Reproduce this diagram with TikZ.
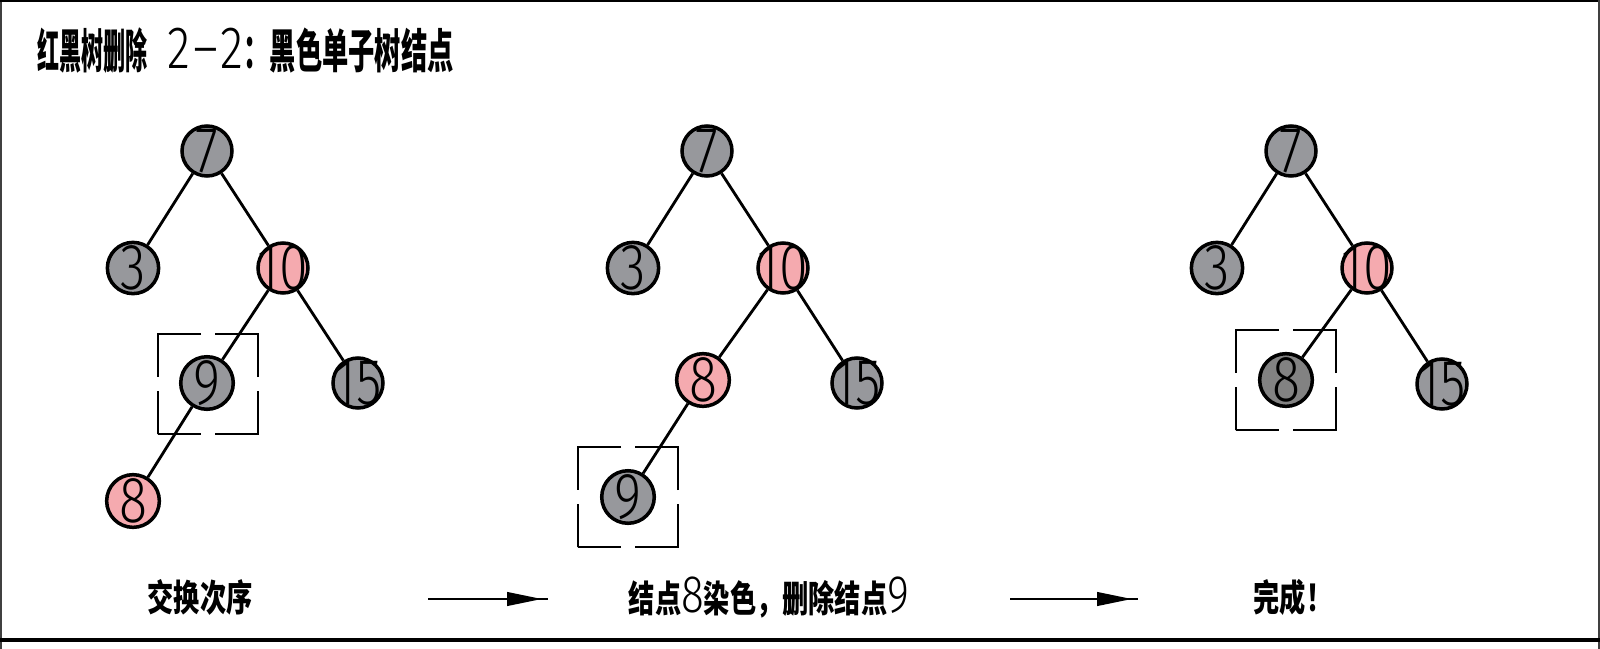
\documentclass[tikz,border=0pt]{standalone}
\usepackage{fontspec}
\usepackage{xcolor}
\usepackage{tikz}
\usetikzlibrary{arrows.meta, positioning}
\newfontfamily\cjk[FakeStretch=0.71]{Noto Sans CJK SC}
\newfontfamily\cjkn[FakeStretch=0.47]{Noto Sans CJK SC}
\newfontfamily\cjkm[FakeStretch=0.56]{Noto Sans CJK SC}
\newfontfamily\dg[UprightFont=* Light, FakeStretch=0.8]{Fira Sans}
\newfontfamily\dgw[UprightFont=* Light, FakeStretch=0.8]{Fira Sans}
\definecolor{rbgrey}{HTML}{97989C}
\definecolor{rbdark}{HTML}{828282}
\definecolor{rbpink}{HTML}{F5AAAF}
\tikzset{
  keynode/.style={circle, draw=black, line width=2pt, minimum size=1cm, inner sep=0pt, font=\dg\fontsize{37}{37}\selectfont},
  blacknode/.style={keynode, fill=rbgrey},
  darknode/.style={keynode, fill=rbdark},
  rednode/.style={keynode, fill=rbpink},
  treeedge/.style={line width=1.6pt},
  markbox/.style={draw, line width=1.5pt, minimum size=2cm, inner sep=0pt, dash pattern=on 0.86cm off 0.28cm on 0.86cm off 0cm},
  steplabel/.style={font=\cjk\bfseries\fontsize{21}{21}\selectfont, inner sep=0pt},
  stepline/.style={line width=1.5pt},
  steptip/.style={line width=1.5pt, -{Triangle[length=0.7cm,width=0.27cm]}}
}

\begin{document}
\begin{tikzpicture}[x=0.02cm, y=-0.02cm]
  \useasboundingbox (0,0) rectangle (1600,649);
  % frame
  \draw[line width=1pt, black!75] (1,0) -- (1,649);
  \draw[line width=1.2pt] (0,1) -- (1600,1);
  \draw[line width=1pt, black!75] (1599,0) -- (1599,649);
  \draw[line width=2pt] (0,640) -- (1600,640);

  \node[anchor=west, inner sep=0pt] (title) at (37,51)
    {{\cjkn\bfseries\fontsize{26.7}{27}\selectfont 红黑树删除}\hspace{0.4cm}%
     {\dgw\fontsize{34}{34}\selectfont 2\kern2pt–\kern1pt2}%
     {\cjkm\bfseries\fontsize{26.7}{27}\selectfont ：黑色单子树结点}};

  % before: swap
  \node[markbox] (boxa) at (208,384) {};
  \node[blacknode] (a7) at (207,151) {7};
  \node[blacknode] (a3) at (133,268) {3};
  \node[rednode] (a10) at (283,268) {\makebox[0pt]{10}};
  \node[blacknode] (a9) at (207,383) {9};
  \node[blacknode] (a15) at (358,383) {\makebox[0pt]{15}};
  \node[rednode] (a8) at (133,501) {8};
  \draw[treeedge] (a7) -- (a3);
  \draw[treeedge] (a7) -- (a10);
  \draw[treeedge] (a10) -- (a9);
  \draw[treeedge] (a10) -- (a15);
  \draw[treeedge] (a9) -- (a8);

  % recolour 8, remove 9
  \node[markbox] (boxb) at (628,497) {};
  \node[blacknode] (b7) at (707,151) {7};
  \node[blacknode] (b3) at (633,268) {3};
  \node[rednode] (b10) at (783,268) {\makebox[0pt]{10}};
  \node[rednode] (b8) at (703,380) {8};
  \node[blacknode] (b15) at (857,383) {\makebox[0pt]{15}};
  \node[blacknode] (b9) at (628,497) {9};
  \draw[treeedge] (b7) -- (b3);
  \draw[treeedge] (b7) -- (b10);
  \draw[treeedge] (b10) -- (b8);
  \draw[treeedge] (b10) -- (b15);
  \draw[treeedge] (b8) -- (b9);

  % done
  \node[markbox] (boxc) at (1286,380) {};
  \node[blacknode] (c7) at (1291,151) {7};
  \node[blacknode] (c3) at (1217,268) {3};
  \node[rednode] (c10) at (1367,268) {\makebox[0pt]{10}};
  \node[darknode] (c8) at (1286,380) {8};
  \node[blacknode] (c15) at (1442,384) {\makebox[0pt]{15}};
  \draw[treeedge] (c7) -- (c3);
  \draw[treeedge] (c7) -- (c10);
  \draw[treeedge] (c10) -- (c8);
  \draw[treeedge] (c10) -- (c15);

  \node[steplabel] (stepa) at (200,597) {交换次序};
  \node[steplabel] (stepb) at (769,598)
    {结点{\dgw\mdseries\fontsize{30}{30}\selectfont 8}染色，删除结点{\dgw\mdseries\fontsize{30}{30}\selectfont 9}};
  \node[steplabel] (stepc) at (1293,597) {完成！};

  \coordinate (arsa) at (428,599);
  \coordinate (arta) at (542,599);
  \coordinate (area) at (548,599);
  \coordinate (arsb) at (1010,599);
  \coordinate (artb) at (1132,599);
  \coordinate (areb) at (1138,599);
  \draw[stepline] (arsa) -- (area);
  \draw[steptip] (arsa) -- (arta);
  \draw[stepline] (arsb) -- (areb);
  \draw[steptip] (arsb) -- (artb);
\end{tikzpicture}
\end{document}
